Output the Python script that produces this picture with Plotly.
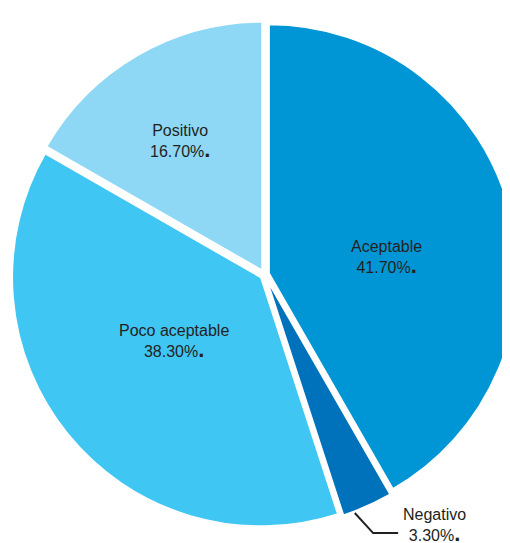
import plotly.graph_objects as go

labels = ["Aceptable", "Negativo", "Poco aceptable", "Positivo"]
values = [41.7, 3.3, 38.3, 16.7]
colors = ["#0096D6", "#0072BC", "#40C6F2", "#8ED8F6"]
pulls = [0.018, 0.018, 0.018, 0.018]

# label anchor positions (paper coords, figure has zero margins)
label_xy = [(0.743, 0.539), (0.837, 0.046), (0.325, 0.385), (0.337, 0.754)]

dot = "<span style='font-size:22px'><b>.</b></span>"
FONT = "Liberation Sans, Arial"

fig = go.Figure(go.Pie(
    labels=labels, values=values, sort=False, direction="clockwise", rotation=0,
    marker=dict(colors=colors, line=dict(color="white", width=2)),
    pull=pulls, textinfo="none",
    domain=dict(x=[0.006, 1.0], y=[0.0424, 0.976]),
    showlegend=False, hoverinfo="label+percent",
))

for (lx, ly), l, v in zip(label_xy, labels, values):
    fig.add_annotation(x=lx, y=ly, xref="paper", yref="paper",
                       xanchor="center", yanchor="middle",
                       text=f"{l}<br>{v:.2f}%{dot}",
                       showarrow=False, align="center",
                       font=dict(family=FONT, size=16, color="#231F20"))

# leader line for Negativo
fig.add_shape(type="path", xref="paper", yref="paper",
              path="M 0.680 0.070 L 0.716 0.033 L 0.765 0.033",
              line=dict(color="#231F20", width=2))

fig.update_layout(width=510, height=543, margin=dict(l=0, r=0, t=0, b=0),
                  paper_bgcolor="white", plot_bgcolor="white")
fig.write_html("out.html")
